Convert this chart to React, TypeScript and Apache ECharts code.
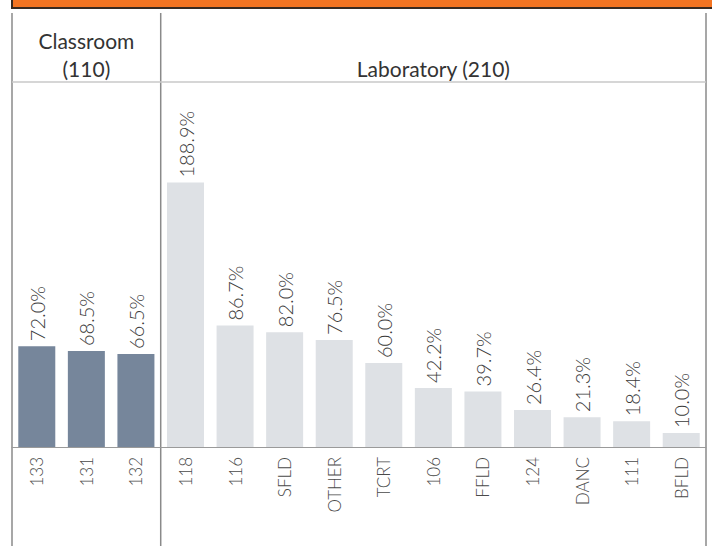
import React, { useEffect, useRef } from "react";
import * as echarts from "echarts";

const classroomRooms = ["133", "131", "132"];
const classroomValues = [72.0, 68.5, 66.5];
const labRooms = ["118", "116", "SFLD", "OTHER", "TCRT", "106", "FFLD", "124", "DANC", "111", "BFLD"];
const labValues = [188.9, 86.7, 82.0, 76.5, 60.0, 42.2, 39.7, 26.4, 21.3, 18.4, 10.0];
const groupHeaders = ["Classroom\n(110)", "Laboratory (210)"];

export default function App() {
  const ref = useRef<HTMLDivElement>(null);
  useEffect(() => {
    if (!ref.current) return;
    const chart = echarts.init(ref.current, null, { renderer: "svg" });
    const categories = [...classroomRooms, ...labRooms];
    const data = [
      ...classroomValues.map((v) => ({ value: v, itemStyle: { color: "#76869b" } })),
      ...labValues.map((v) => ({ value: v, itemStyle: { color: "#dee1e5" } })),
    ];
    const gridLeft = 12;
    const gridRight = 6;
    const W = 712;
    const catW = (W - gridLeft - gridRight) / categories.length;
    const divX = gridLeft + classroomRooms.length * catW;
    const lineStyle = { stroke: "#8a8a8a", lineWidth: 1.5 };
    const font = "Lato, 'Noto Sans', sans-serif";
    chart.setOption({
      animation: false,
      backgroundColor: "#ffffff",
      grid: { left: gridLeft, right: gridRight, top: 97, bottom: 99, containLabel: false },
      xAxis: {
        type: "category",
        data: categories,
        axisTick: { show: false },
        axisLine: { show: true, lineStyle: { color: "#9a9a9a", width: 1 } },
        axisLabel: {
          rotate: 90,
          margin: 10,
          color: "#4a4a4a",
          fontSize: 17,
          fontFamily: font,
          fontWeight: 300,
        },
      },
      yAxis: {
        type: "value",
        min: 0,
        max: 250,
        show: false,
        splitLine: { show: false },
      },
      series: [
        {
          type: "bar",
          data,
          barWidth: 37,
          label: {
            show: true,
            position: "top",
            rotate: 90,
            align: "left",
            verticalAlign: "middle",
            distance: 5,
            color: "#3a3a3a",
            fontSize: 20,
            fontWeight: 300,
            fontFamily: font,
            formatter: (p: any) => p.value.toFixed(1) + "%",
          },
        },
      ],
      graphic: [
        {
          type: "rect",
          shape: { x: 12, y: -2, width: 702, height: 10 },
          style: { fill: "#f47421", stroke: "#3a2a20", lineWidth: 2 },
        },
        { type: "line", shape: { x1: 12, y1: 13, x2: 12, y2: 546 }, style: lineStyle },
        { type: "line", shape: { x1: divX, y1: 13, x2: divX, y2: 546 }, style: lineStyle },
        { type: "line", shape: { x1: 706, y1: 13, x2: 706, y2: 546 }, style: lineStyle },
        { type: "line", shape: { x1: 12, y1: 82, x2: 706, y2: 82 }, style: { stroke: "#c8c8c8", lineWidth: 1.5 } },
        {
          type: "text",
          x: (12 + divX) / 2,
          y: 54,
          style: {
            text: groupHeaders[0],
            align: "center",
            verticalAlign: "middle",
            fill: "#333333",
            fontSize: 21,
            lineHeight: 28,
            fontFamily: font,
          },
        },
        {
          type: "text",
          x: (divX + 706) / 2,
          y: 68,
          style: {
            text: groupHeaders[1],
            align: "center",
            verticalAlign: "middle",
            fill: "#333333",
            fontSize: 21,
            fontFamily: font,
          },
        },
      ],
    });
    return () => chart.dispose();
  }, []);
  return <div ref={ref} style={{ width: 712, height: 546, position: "absolute", left: 0, top: 0 }} />;
}
